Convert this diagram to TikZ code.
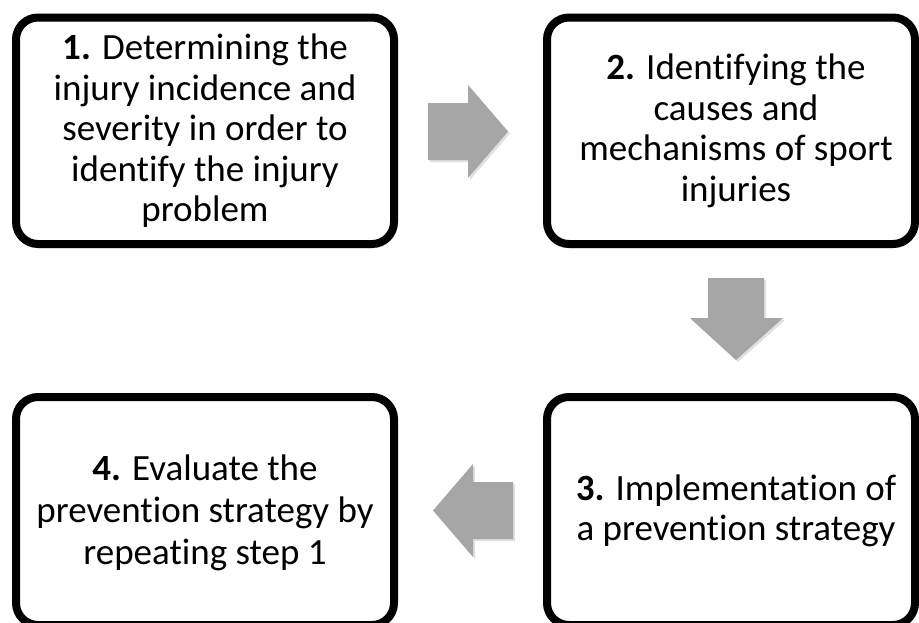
\documentclass[tikz,border=0pt]{standalone}
\usepackage{fontspec}
\setmainfont{Carlito}[Ligatures=NoCommon]
\usetikzlibrary{shadows}
\definecolor{arrowgray}{HTML}{A6A6A6}
\tikzset{
  stepbox/.style={draw=black, line width=8pt, rounded corners=22pt, fill=white,
    inner sep=0pt,
    drop shadow={shadow xshift=2pt, shadow yshift=-4pt, opacity=0.15, fill=black}},
  steptext/.style={align=center, inner sep=0pt, font=\fontsize{37}{40.5}\selectfont},
  blockarrow/.style={fill=arrowgray, draw=none,
    drop shadow={shadow xshift=2pt, shadow yshift=-2pt, opacity=0.12, fill=black}}
}
\begin{document}
\begin{tikzpicture}[x=1pt,y=-1pt]
\useasboundingbox (0,0) rectangle (919,622);
\clip (0,0) rectangle (919,622);
\fill[white] (0,0) rectangle (919,622);

\node[stepbox, minimum width=378pt, minimum height=226.5pt] (b1) at (205,130.75) {};
\node[stepbox, minimum width=368pt, minimum height=226.5pt] (b2) at (731,130.75) {};
\node[stepbox, minimum width=368pt, minimum height=228pt] (b3) at (731,511) {};
\node[stepbox, minimum width=378pt, minimum height=228pt] (b4) at (205,511) {};

\node[steptext] (t1) at (b1.center)
  {\textbf{1.} Determining the\\injury incidence and\\severity in order to\\identify the injury\\problem};
\node[steptext] (t2) at ([xshift=5pt]b2.center)
  {\textbf{2.} Identifying the\\causes and\\mechanisms of sport\\injuries};
\node[steptext] (t3) at ([xshift=5pt]b3.center)
  {\textbf{3.} Implementation of\\a prevention strategy};
\node[steptext, font=\fontsize{37}{42}\selectfont] (t4) at ([yshift=-2pt]b4.center)
  {\textbf{4.} Evaluate the\\prevention strategy by\\repeating step 1};

% block arrows
\fill[blockarrow] (428,103) -- (468,103) -- (468,85) -- (508,131.5) -- (468,178)
  -- (468,160) -- (428,160) -- cycle;
\fill[blockarrow] (708,278) -- (764,278) -- (764,318) -- (783,318) -- (736,360)
  -- (690,318) -- (708,318) -- cycle;
\fill[blockarrow] (513,482) -- (473,482) -- (473,464) -- (433,510.5) -- (473,557)
  -- (473,539) -- (513,539) -- cycle;
\end{tikzpicture}
\end{document}
